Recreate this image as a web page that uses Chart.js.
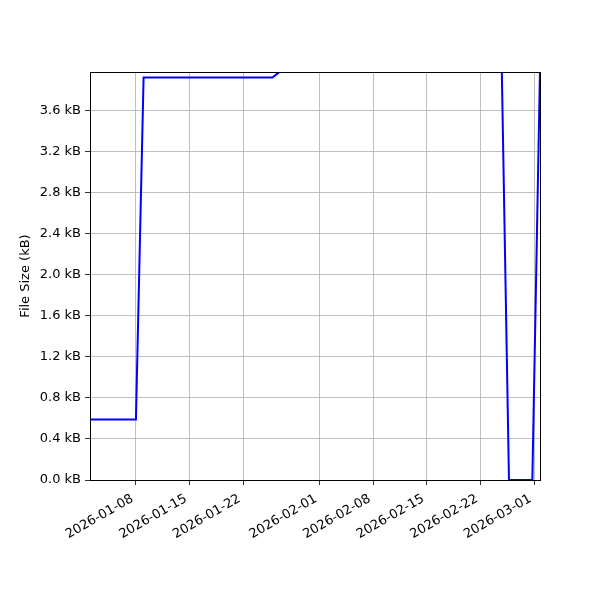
<!DOCTYPE html>
<html lang="en">
<head>
  <meta charset="UTF-8" />
  <title>File Size</title>
  <style>
    body { margin: 0; background: #fff; }
    #wrap { width: 600px; height: 600px; }
  </style>
</head>
<body>
  <div id="wrap"><canvas id="sizeChart" width="600" height="600"></canvas></div>

  <script src="https://cdn.jsdelivr.net/npm/chart.js"></script>
  <script>
    // data (values above the top of the axis are guesses, they are clipped)
    const dates = [
      '2026-01-02T00:00', '2026-01-08T00:00', '2026-01-09T00:00', '2026-01-25T20:00',
      '2026-01-26T20:00', '2026-02-10T00:00', '2026-02-24T18:00', '2026-02-25T17:30',
      '2026-02-28T18:45', '2026-03-01T18:45'
    ];
    const sizesKB = [0.59, 0.59, 3.92, 3.92, 3.98, 4.1, 4.17, 0, 0, 4.0];
    const xTickDates = ['2026-01-08', '2026-01-15', '2026-01-22', '2026-02-01',
                        '2026-02-08', '2026-02-15', '2026-02-22', '2026-03-01'];
    const yMaxKB = 3.974;

    function toMs(s) {
      const [d, t] = s.split('T');
      const [y, m, day] = d.split('-').map(Number);
      const [hh, mm] = (t || '00:00').split(':').map(Number);
      return Date.UTC(y, m - 1, day, hh, mm);
    }
    function fmtDate(ms) {
      return new Date(ms).toISOString().slice(0, 10);
    }

    const points = dates.map((d, i) => ({ x: toMs(d), y: sizesKB[i] }));

    const font = { family: 'DejaVu Sans', size: 13 };
    Chart.defaults.color = '#000';

    // matplotlib style box around the plot area
    const frame = {
      id: 'frame',
      afterDraw(chart) {
        const a = chart.chartArea, c = chart.ctx;
        c.save();
        c.strokeStyle = '#000';
        c.lineWidth = 1;
        c.strokeRect(Math.round(a.left) + 0.5, Math.round(a.top) + 0.5,
                     Math.round(a.right - a.left), Math.round(a.bottom - a.top));
        c.restore();
      }
    };

    new Chart(document.getElementById('sizeChart'), {
      type: 'line',
      data: {
        datasets: [{
          data: points,
          borderColor: '#0000ff',
          borderWidth: 2,
          pointRadius: 0,
          tension: 0,
          fill: false
        }]
      },
      options: {
        responsive: false,
        animation: false,
        layout: { padding: { left: 0, top: 72, right: 60, bottom: 0 } },
        plugins: { legend: { display: false }, tooltip: { enabled: false } },
        scales: {
          x: {
            type: 'linear',
            min: toMs(dates[0]),
            max: toMs(dates[dates.length - 1]),
            afterBuildTicks(scale) {
              scale.ticks = xTickDates.map(d => ({ value: toMs(d) }));
            },
            afterFit(scale) { scale.height = 120; },
            grid: { color: '#b0b0b0', lineWidth: 0.8, tickColor: '#000', tickLength: 5 },
            border: { display: false },
            ticks: {
              font: font,
              minRotation: 30,
              maxRotation: 30,
              padding: 4,
              // trailing space nudges the rotated label a little left/down, like matplotlib
              callback: v => fmtDate(v) + ' '
            }
          },
          y: {
            min: 0,
            max: yMaxKB,
            afterFit(scale) { scale.width = 90; },
            grid: { color: '#b0b0b0', lineWidth: 0.8, tickColor: '#000', tickLength: 5 },
            border: { display: false },
            title: {
              display: true,
              text: 'File Size (kB)',
              font: font,
              padding: { top: 18, bottom: 0 }
            },
            ticks: {
              font: font,
              stepSize: 0.4,
              includeBounds: false,
              padding: 4,
              callback: v => v.toFixed(1) + ' kB'
            }
          }
        }
      },
      plugins: [frame]
    });
  </script>
</body>
</html>
